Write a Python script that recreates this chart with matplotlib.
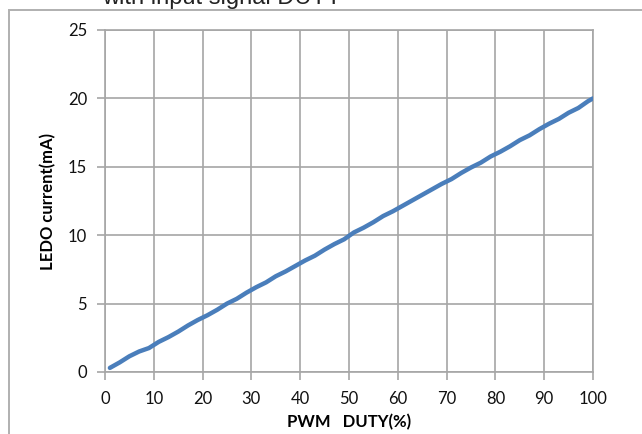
import matplotlib.pyplot as plt
from matplotlib.patches import Rectangle

# PWM duty (%) vs LEDO current (mA)
duty = [1, 3, 5, 7, 9, 11, 13, 15, 17, 19, 21, 23, 25, 27, 29, 31, 33, 35, 37, 39,
        41, 43, 45, 47, 49, 51, 53, 55, 57, 59, 61, 63, 65, 67, 69, 71, 73, 75, 77, 79,
        81, 83, 85, 87, 89, 91, 93, 95, 97, 99, 100]
current = [0.3, 0.7, 1.15, 1.5, 1.75, 2.2, 2.55, 2.95, 3.4, 3.8, 4.15, 4.55, 5.0, 5.35,
           5.8, 6.2, 6.55, 7.0, 7.35, 7.75, 8.15, 8.5, 8.95, 9.35, 9.7, 10.2, 10.55, 10.95,
           11.4, 11.75, 12.15, 12.55, 12.95, 13.35, 13.75, 14.1, 14.55, 14.95, 15.3, 15.75,
           16.1, 16.5, 16.95, 17.3, 17.75, 18.15, 18.5, 18.95, 19.3, 19.8, 20.0]

x_ticks = list(range(0, 101, 10))
y_ticks = list(range(0, 26, 5))

GRID = "#a6a6a6"
LINE = "#4a7ebb"

plt.rcParams["font.family"] = ["Lato", "DejaVu Sans"]

fig = plt.figure(figsize=(6.42, 4.34), dpi=100)
ax = fig.add_axes([105 / 642, 62 / 434, 488 / 642, 342 / 434])

ax.plot(duty, current, color=LINE, linewidth=3.2, solid_capstyle="round", zorder=3)

ax.set_xlim(0, 100)
ax.set_ylim(0, 25)
ax.set_xticks(x_ticks)
ax.set_yticks(y_ticks)
ax.grid(True, color=GRID, linewidth=1.2)
ax.set_axisbelow(True)
for spine in ax.spines.values():
    spine.set_color(GRID)
    spine.set_linewidth(1.2)
ax.tick_params(direction="out", length=6, width=1.2, color=GRID,
               labelsize=12, labelcolor="#111111")
ax.tick_params(axis="x", pad=8)
ax.tick_params(axis="y", pad=7)

ax.set_xlabel("PWM   DUTY(%)", fontsize=12, fontweight="bold", labelpad=5)
ax.set_ylabel("LEDO current(mA)", fontsize=12, fontweight="bold", labelpad=8)

# outer chart frame, cut off at right and bottom
fig.add_artist(Rectangle((9 / 642, -0.1), 1.2, 1 - 10 / 434 + 0.1,
                         transform=fig.transFigure, fill=False,
                         edgecolor="#b0b0b0", linewidth=1.4))

# title, mostly cut off at the top edge as in the source
fig.text(102 / 642, 1 - 4 / 434, "with input signal DUTY", fontsize=17,
         family="Liberation Sans", va="baseline", ha="left", color="#222222")

fig.savefig("out.png", dpi=100)
